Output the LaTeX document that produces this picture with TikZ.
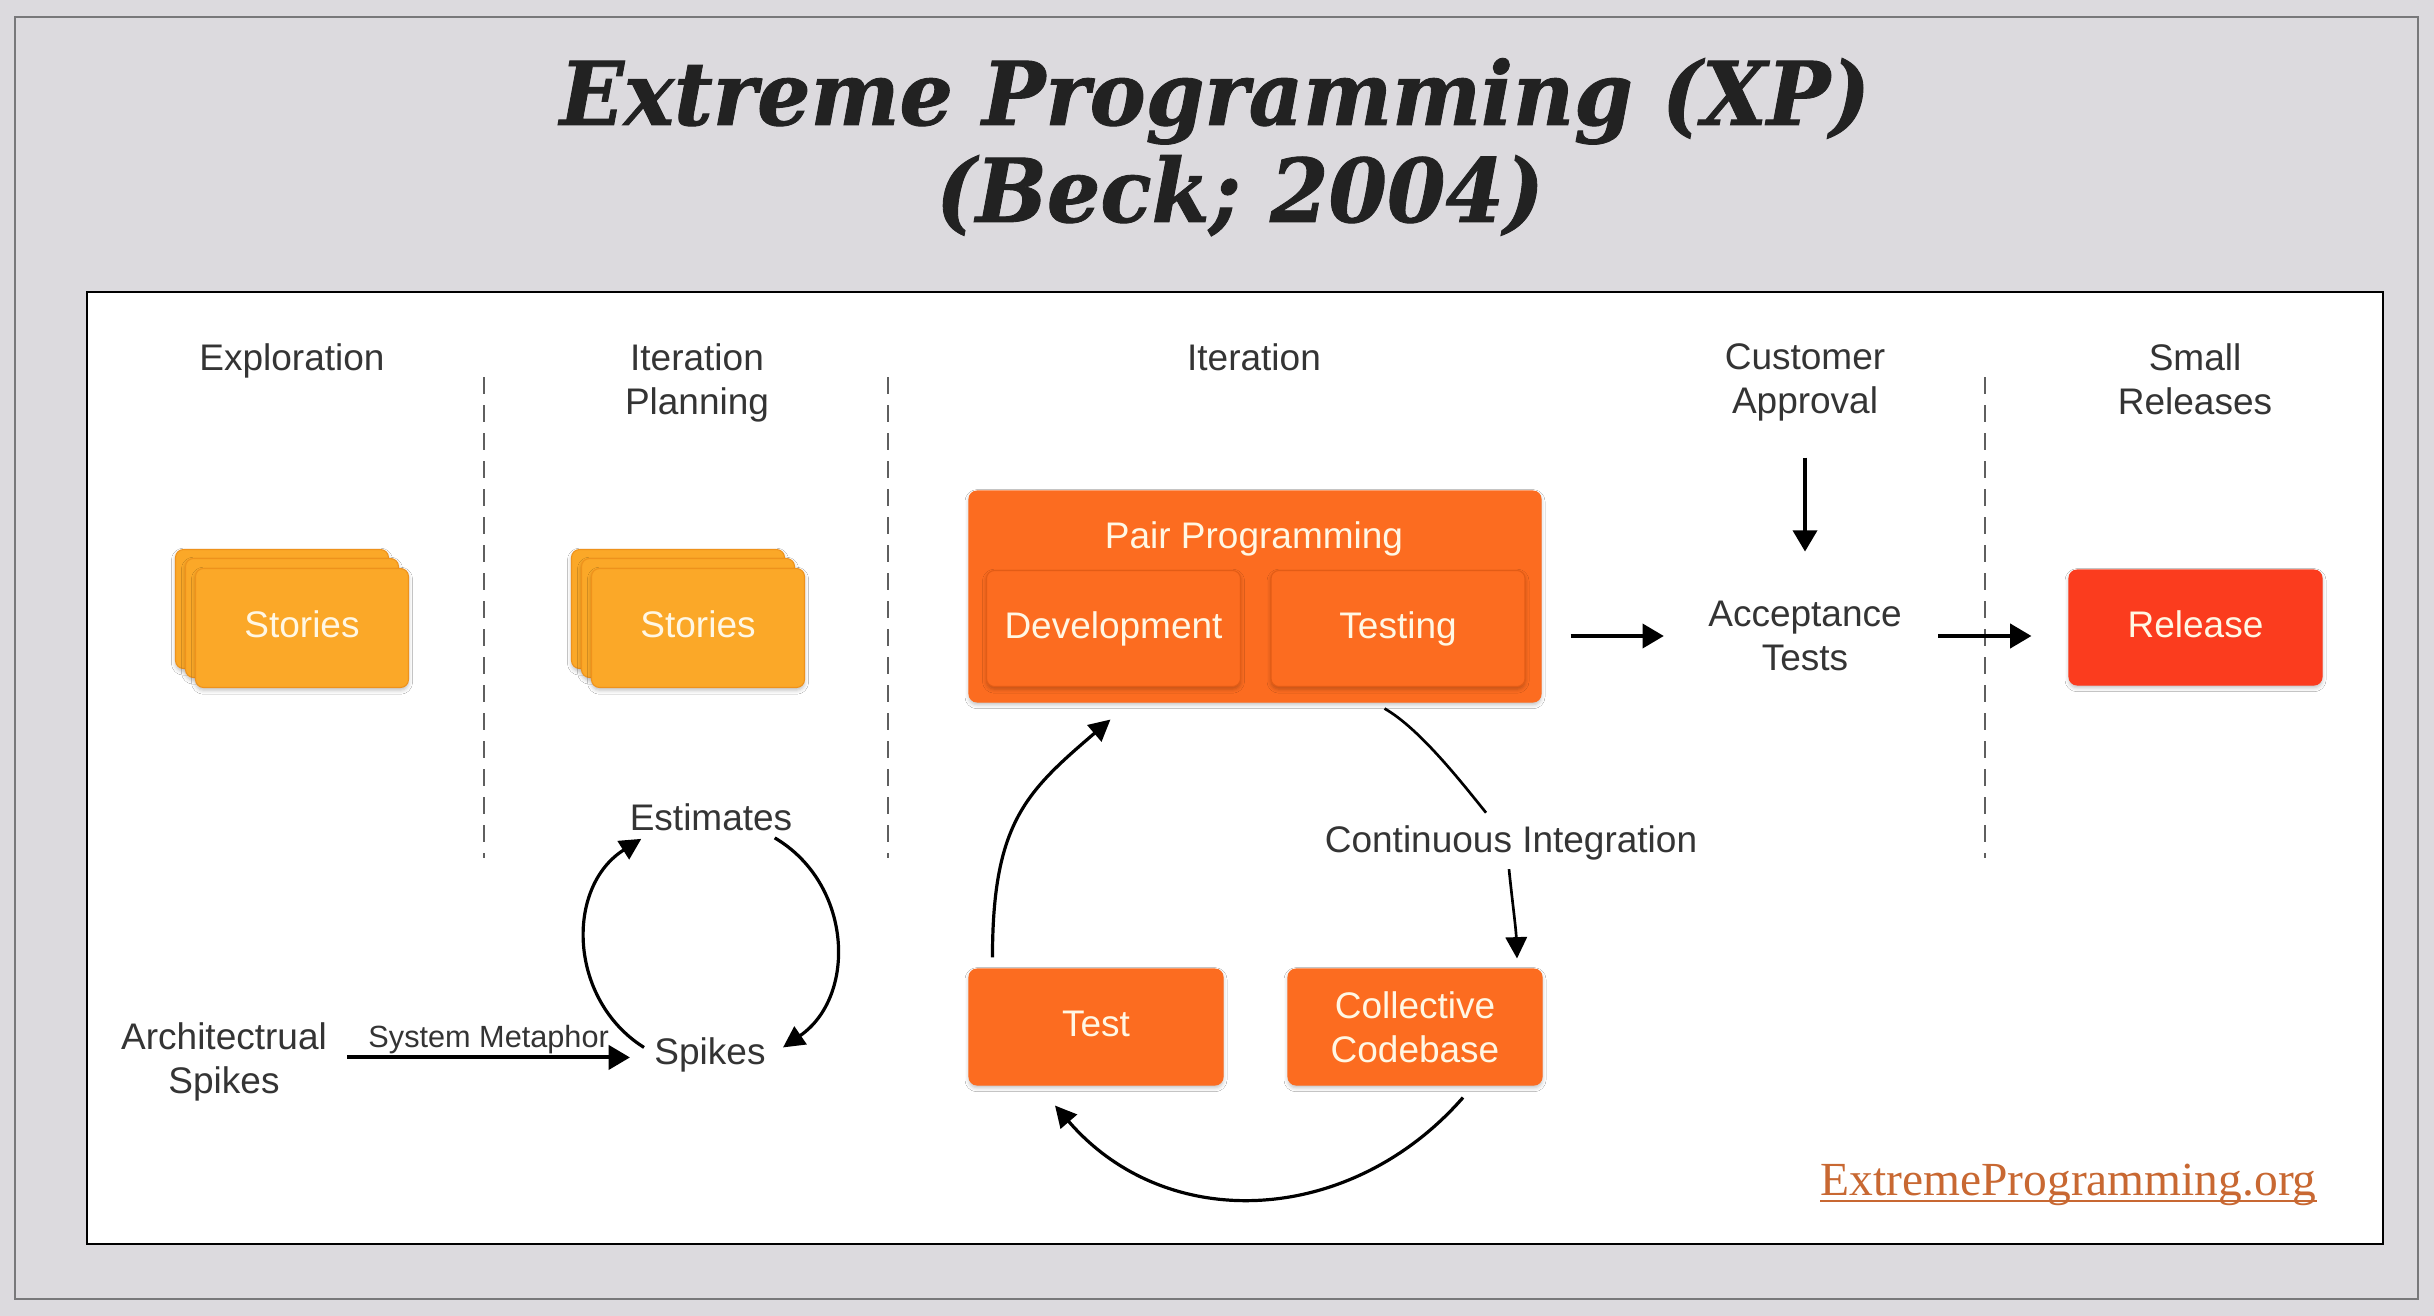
\documentclass[tikz,border=0pt]{standalone}
\usepackage{fontspec}
\setmainfont{Liberation Sans}
\newfontfamily\titlefont{DejaVu Serif}[FakeStretch=0.955, FakeBold=1]
\newfontfamily\sitefont{Liberation Serif}
\usetikzlibrary{arrows.meta,calc,shadows.blur}

\definecolor{slidegrey}{RGB}{220,218,222}
\definecolor{framegrey}{RGB}{120,120,122}
\definecolor{inkgrey}{RGB}{52,52,52}
\definecolor{titleink}{RGB}{34,34,34}
\definecolor{lanegrey}{RGB}{95,95,95}
\definecolor{storyfill}{RGB}{251,168,40}
\definecolor{storyedge}{RGB}{238,146,28}
\definecolor{xporange}{RGB}{252,108,32}
\definecolor{xpedge}{RGB}{226,92,22}
\definecolor{releasered}{RGB}{251,60,30}
\definecolor{boxtext}{RGB}{255,247,228}
\definecolor{sitebrown}{RGB}{200,104,50}

\tikzset{every picture/.style={line width=0.75pt}}
\tikzset{
  phase/.style={text=inkgrey, font=\fontsize{27.75}{33}\selectfont, inner sep=0pt, align=center},
  card/.style={rectangle, rounded corners=6pt, fill=storyfill, draw=storyedge, line width=0.8pt,
    minimum width=159.75pt, minimum height=89.25pt, inner sep=0pt, text=boxtext,
    font=\fontsize{27.75}{33}\selectfont, text height=20.25pt, text depth=6pt,
    blur shadow={shadow xshift=0pt, shadow yshift=-2pt, shadow blur radius=3pt, shadow opacity=25}},
  xpbox/.style={card, fill=xporange, draw=xpedge, minimum width=190.5pt, minimum height=87pt},
  lane/.style={draw=lanegrey, line width=1.9pt, dash pattern=on 12.75pt off 8.25pt},
  flow/.style={draw=black, line width=3pt, -{Triangle[length=16pt,width=18pt]}},
  cycleline/.style={draw=black, line width=2.4pt, -{Triangle[length=16pt,width=16pt]}},
}

\begin{document}
\begin{tikzpicture}[x=0.75pt,y=0.75pt,yscale=-1,xscale=1]
% slide background and frame
\fill[slidegrey] (0,0) rectangle (2434,1316);
\useasboundingbox (0,0) rectangle (2434,1316);
\draw[framegrey, line width=1.5pt] (15,17) rectangle (2418,1299);

% Title
\node[anchor=base, inner sep=0pt, text=titleink, font=\titlefont\bfseries\itshape\fontsize{66}{72}\selectfont] (ttlA) at (1215,125) {Extreme Programming (XP)};
\node[anchor=base, inner sep=0pt, text=titleink, font=\titlefont\bfseries\itshape\fontsize{66}{72}\selectfont] (ttlB) at (1240,222) {(Beck; 2004)};

% White panel
\draw[fill=white, line width=2pt] (87,292) rectangle (2383,1244);

% Phase headers
\node[phase, anchor=north] (hExpl) at (292,343) {Exploration};
\node[phase, anchor=north] (hPlan) at (697,343) {Iteration\\Planning};
\node[phase, anchor=north] (hIter) at (1254,343) {Iteration};
\node[phase, anchor=north] (hCust) at (1805,343) {Customer\\Approval};
\node[phase, anchor=north] (hRel) at (2195,343) {Small\\Releases};

% Lane separators
\draw[lane] (484,377) -- (484,858);
\draw[lane] (888,377) -- (888,858);
\draw[lane] (1985,377) -- (1985,858);

% Stories stack (exploration)
\node[card] (expBack) at (282,609) {};
\node[card] (expMid) at (292,618) {};
\node[card] (expStories) at (302,628) {Stories};
% Stories stack (planning)
\node[card] (planBack) at (678,609) {};
\node[card] (planMid) at (688,618) {};
\node[card] (planStories) at (698,628) {Stories};

% Pair programming block
\node[xpbox, draw=xporange, minimum width=429pt, minimum height=158.25pt] (pair) at (1255,596.5) {};
\node[phase, text=boxtext, anchor=base] (pairTxt) at (1254,548) {Pair Programming};
\node[xpbox] (dev) at (1113.5,628.5) {Development};
\node[xpbox] (testing) at (1398,628.5) {Testing};

% Acceptance and release
\node[phase] (acc) at (1805,636) {Acceptance\\Tests};
\node[xpbox, fill=releasered, draw=releasered, minimum width=189.75pt, minimum height=86.25pt] (release) at (2195.5,627.5) {Release};

% Iteration cycle
\node[xpbox, draw=xporange] (test) at (1096,1027) {Test};
\node[xpbox, draw=xporange, align=center, text height=, text depth=] (codebase) at (1415,1027) {Collective\\Codebase};
\node[phase, anchor=base] (ci) at (1511,852) {Continuous Integration};

% Planning cycle
\node[phase, anchor=base] (est) at (711,830) {Estimates};
\node[phase, anchor=base] (spk) at (710,1064) {Spikes};
\node[phase] (arch) at (224,1062) {Architectrual\\Spikes};

% Site link
\node[anchor=base west, inner sep=0pt, text=sitebrown, font=\sitefont\fontsize{35.6}{40}\selectfont] (site) at (1820,1195) {ExtremeProgramming.org};
\draw[sitebrown, line width=1.6pt] ($(site.base west)+(0,6)$) -- ($(site.base east)+(0,6)$);

% Connection
\draw[flow] ($(hCust.south)+(0,36)$) -- ($(acc.north)+(0,-49)$);
% Connection
\draw[flow] ($(pair.east |- acc.west)+(29,0)$) -- ($(acc.west)+(-44,0)$);
% Connection
\draw[flow] ($(acc.east)+(36,0)$) -- ($(release.west |- acc.east)+(-37,0)$);
% Connection
\draw[flow] ($(arch.east |- spk.west)+(20,3)$) -- node[above=1pt, inner sep=0pt, text=inkgrey, font=\fontsize{23}{27}\selectfont] (sysMeta) {System Metaphor} ($(spk.west)+(-24,3)$);
% Connection
\draw[cycleline] ($(spk.west)+(-10,-7)$) .. controls +(-76,-48) and +(-76,48) .. ($(est.south west)+(12,8)$);
% Connection
\draw[cycleline] ($(est.south east)+(-18,7)$) .. controls +(78,46) and +(74,-51) .. ($(spk.east)+(17,-7)$);
% Connection
\draw[cycleline] ($(test.north west)+(24,-11)$) .. controls +(0,-135) and +(-84,72) .. ($(pair.south west)+(142,17)$);
% Connection
\draw[line width=2pt] ($(pair.south east)+(-157,6)$) .. controls +(35,20) and +(-25,-31) .. ($(ci.north)+(-25,-12)$);
\draw[cycleline, line width=2pt] ($(ci.south)+(-2,9)$) .. controls +(3,30) and +(-1,-30) .. ($(codebase.north)+(102,-10)$);
% Connection
\draw[cycleline] ($(codebase.south)+(48,12)$) .. controls +(-112,128) and +(112,130) .. ($(test.south)+(-41,20)$);

\end{tikzpicture}
\end{document}
